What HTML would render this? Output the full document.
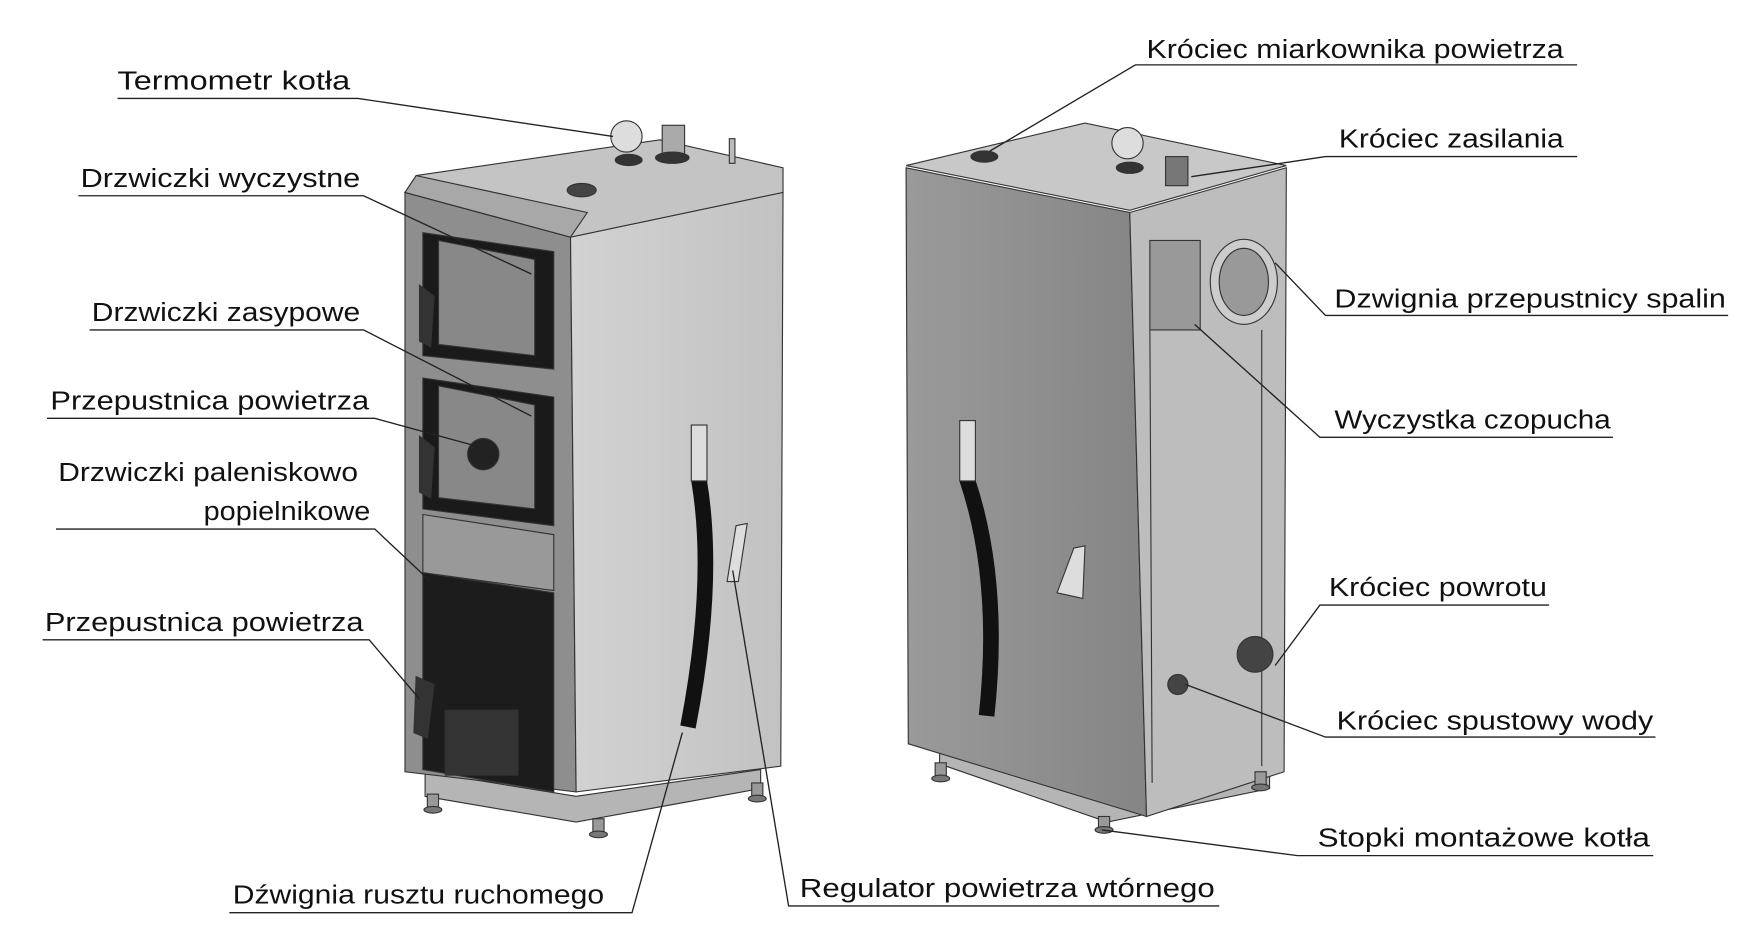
<!DOCTYPE html>
<html><head><meta charset="utf-8"><style>
html,body{margin:0;padding:0;background:#fff;width:1745px;height:944px;overflow:hidden}
svg{display:block}
text{font-family:"Liberation Sans",sans-serif;font-size:23px;fill:#111}
</style></head><body>
<svg width="1745" height="944" viewBox="0 0 1560 844" xmlns="http://www.w3.org/2000/svg">
<defs>
<linearGradient id="gs" x1="0" y1="0" x2="1" y2="0"><stop offset="0" stop-color="#d2d2d2"/><stop offset="1" stop-color="#c2c2c2"/></linearGradient>
<linearGradient id="gl" x1="0" y1="0" x2="1" y2="0"><stop offset="0" stop-color="#9a9a9a"/><stop offset="1" stop-color="#858585"/></linearGradient>
</defs>
<rect width="1560" height="844" fill="#fff"/>
<g stroke="#333" stroke-width="1">
<!-- LEFT BOILER -->
<polygon points="380,690 515,712 680,688 680,705 515,735 380,712" fill="#b5b5b5"/>
<polygon points="362,172 510,212 515,708 362,690" fill="#8e8e8e"/>
<polygon points="510,212 700,172 698,685 515,708" fill="url(#gs)"/>
<polygon points="372,157 590,125 700,150 700,172 510,212 362,172" fill="#c4c4c4"/>
<polygon points="362,172 372,157 525,190 510,212" fill="#a8a8a8"/>
<polygon points="378,208 495,225 495,330 378,318" fill="#1a1a1a"/>
<polygon points="392,215 478,232 478,318 392,308" fill="#888"/>
<polygon points="378,338 495,355 495,470 378,455" fill="#1a1a1a"/>
<polygon points="392,345 478,362 478,455 392,445" fill="#888"/>
<polygon points="378,460 495,478 495,528 378,512" fill="#999"/>
<polygon points="378,512 495,530 495,708 378,688" fill="#1c1c1c"/>
<circle cx="432" cy="406" r="14" fill="#222"/>
<rect x="398" y="635" width="65" height="58" fill="#333"/>
<polygon points="375,255 388,265 385,310 375,305" fill="#333"/>
<polygon points="375,390 388,400 385,445 375,440" fill="#333"/>
<polygon points="372,605 388,612 382,660 370,655" fill="#333"/>
<circle cx="560" cy="122" r="14" fill="#ddd"/>
<ellipse cx="562" cy="143" rx="12" ry="5" fill="#333"/>
<rect x="592" y="112" width="20" height="28" fill="#aaa"/>
<ellipse cx="601" cy="141" rx="15" ry="5" fill="#333"/>
<ellipse cx="520" cy="170" rx="13" ry="6" fill="#444"/>
<rect x="652" y="124" width="5" height="22" fill="#bbb"/>
<path d="M625,385 L625,430 Q640,520 615,650" stroke="#111" stroke-width="14" fill="none"/>
<rect x="618" y="380" width="14" height="50" fill="#ddd"/>
<path d="M658,470 L668,468 L660,520 L650,520 Z" fill="#ddd"/>
<rect x="382" y="710" width="10" height="14" fill="#999"/><ellipse cx="387" cy="724" rx="8" ry="3" fill="#777"/>
<rect x="530" y="732" width="10" height="14" fill="#999"/><ellipse cx="535" cy="746" rx="8" ry="3" fill="#777"/>
<rect x="672" y="700" width="10" height="14" fill="#999"/><ellipse cx="677" cy="714" rx="8" ry="3" fill="#777"/>
<!-- RIGHT BOILER -->
<polygon points="840,665 990,718 1135,688 1135,705 990,735 840,683" fill="#b5b5b5"/>
<polygon points="810,150 1010,190 1025,730 812,665" fill="url(#gl)"/>
<polygon points="1010,190 1150,150 1148,690 1025,730" fill="#bdbdbd"/>
<polygon points="810,148 970,110 1150,148 1010,188" fill="#c8c8c8"/>
<line x1="1028" y1="295" x2="1030" y2="700"/>
<line x1="1128" y1="295" x2="1128" y2="685"/>
<rect x="1028" y="215" width="45" height="80" fill="#999"/>
<ellipse cx="1112" cy="252" rx="30" ry="38" fill="#ccc"/>
<ellipse cx="1112" cy="252" rx="22" ry="30" fill="#999"/>
<circle cx="1008" cy="128" r="14" fill="#ddd"/>
<ellipse cx="1010" cy="150" rx="12" ry="5" fill="#333"/>
<rect x="1042" y="140" width="20" height="26" fill="#777"/>
<ellipse cx="880" cy="140" rx="12" ry="5" fill="#333"/>
<circle cx="1122" cy="585" r="16" fill="#444"/>
<circle cx="1053" cy="612" r="9" fill="#444"/>
<path d="M865,385 L865,430 Q895,520 882,640" stroke="#111" stroke-width="14" fill="none"/>
<rect x="858" y="376" width="14" height="54" fill="#ddd"/>
<path d="M960,490 L970,488 L968,535 L945,530 Z" fill="#ddd"/>
<rect x="836" y="682" width="10" height="14" fill="#999"/><ellipse cx="841" cy="696" rx="8" ry="3" fill="#777"/>
<rect x="982" y="730" width="10" height="12" fill="#999"/><ellipse cx="987" cy="742" rx="8" ry="3" fill="#777"/>
<rect x="1122" y="690" width="10" height="14" fill="#999"/><ellipse cx="1127" cy="704" rx="8" ry="3" fill="#777"/>
</g>
<!-- LABEL LINES -->
<g stroke="#222" stroke-width="1.2" fill="none">
<polyline points="105,88 320,88 548,122"/>
<polyline points="70,175 325,175 475,245"/>
<polyline points="80,295 325,295 475,372"/>
<polyline points="42,374 335,374 430,400"/>
<polyline points="50,473 335,473 385,520"/>
<polyline points="38,572 330,572 375,625"/>
<polyline points="205,816 565,816 610,655"/>
<polyline points="1090,810 705,810 655,510"/>
<polyline points="1410,58 1015,58 885,135"/>
<polyline points="1410,140 1185,140 1065,158"/>
<polyline points="1545,282 1185,282 1140,235"/>
<polyline points="1442,391 1180,391 1068,290"/>
<polyline points="1385,541 1180,541 1140,595"/>
<polyline points="1480,659 1185,659 1060,612"/>
<polyline points="1478,765 1160,765 985,742"/>
</g>
<g>
<text x="105" y="80" textLength="208" lengthAdjust="spacingAndGlyphs">Termometr kotła</text>
<text x="72" y="167" textLength="250" lengthAdjust="spacingAndGlyphs">Drzwiczki wyczystne</text>
<text x="82" y="287" textLength="240" lengthAdjust="spacingAndGlyphs">Drzwiczki zasypowe</text>
<text x="45" y="366" textLength="285" lengthAdjust="spacingAndGlyphs">Przepustnica powietrza</text>
<text x="52" y="430" textLength="268" lengthAdjust="spacingAndGlyphs">Drzwiczki paleniskowo</text>
<text x="182" y="465" textLength="149" lengthAdjust="spacingAndGlyphs">popielnikowe</text>
<text x="40" y="564" textLength="285" lengthAdjust="spacingAndGlyphs">Przepustnica powietrza</text>
<text x="208" y="808" textLength="332" lengthAdjust="spacingAndGlyphs">Dźwignia rusztu ruchomego</text>
<text x="715" y="802" textLength="371" lengthAdjust="spacingAndGlyphs">Regulator powietrza wtórnego</text>
<text x="1025" y="52" textLength="373" lengthAdjust="spacingAndGlyphs">Króciec miarkownika powietrza</text>
<text x="1197" y="132" textLength="201" lengthAdjust="spacingAndGlyphs">Króciec zasilania</text>
<text x="1193" y="275" textLength="350" lengthAdjust="spacingAndGlyphs">Dzwignia przepustnicy spalin</text>
<text x="1193" y="383" textLength="247" lengthAdjust="spacingAndGlyphs">Wyczystka czopucha</text>
<text x="1188" y="533" textLength="195" lengthAdjust="spacingAndGlyphs">Króciec powrotu</text>
<text x="1195" y="652" textLength="283" lengthAdjust="spacingAndGlyphs">Króciec spustowy wody</text>
<text x="1178" y="757" textLength="297" lengthAdjust="spacingAndGlyphs">Stopki montażowe kotła</text>
</g>
</svg>
</body></html>
